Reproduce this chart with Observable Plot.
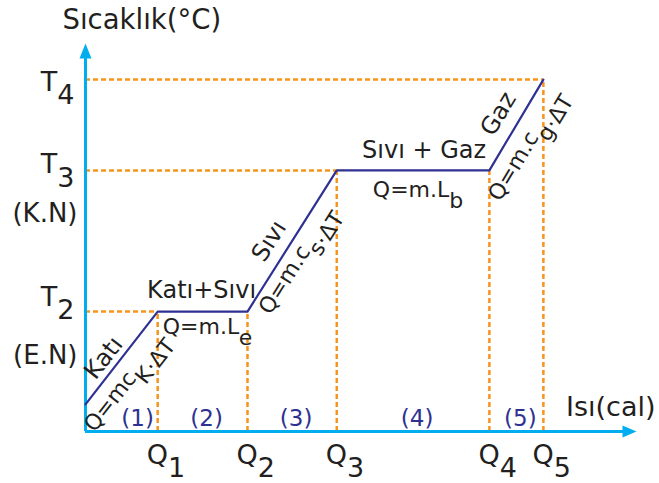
<!DOCTYPE html>
<html>
<head>
<meta charset="utf-8">
<script src="https://cdn.jsdelivr.net/npm/d3@7"></script>
<script src="https://cdn.jsdelivr.net/npm/@observablehq/plot@0.6"></script>
<style>
  html, body { margin: 0; padding: 0; background: #fff; }
  #chart svg { display: block; }
</style>
</head>
<body>
<div id="chart"></div>
<script>
// ---- data ----
const heat = [0, 13.1, 29.4, 45.6, 73.3, 83.1];      // Q0 .. Q5
const temp = [7.0, 30.9, 30.9, 67.3, 67.3, 90.7];    // temperature at each point
const qTickLabels = ["Q_1", "Q_2", "Q_3", "Q_4", "Q_5"];
const tTickLabels = ["T_2", "T_3", "T_4"];
const tTickIndex = [1, 3, 5];
const pointNotes = ["(E.N)", "(K.N)"];
const phaseNames = ["Katı", "Katı+Sıvı", "Sıvı", "Sıvı + Gaz", "Gaz"];
const phaseFormulas = ["Q=mc_K·ΔT", "Q=m.L_e", "Q=m.c_s·ΔT", "Q=m.L_b", "Q=m.c_g·ΔT"];
const stageLabels = ["(1)", "(2)", "(3)", "(4)", "(5)"];
const yTitle = "Sıcaklık(°C)";
const xTitle = "Isı(cal)";

// ---- styles / layout ----
const FONT = "DejaVu Sans";
const INK = "#231f20";
const AXIS = "#00aeef";
const CURVE = "#2e3192";
const DASH = "#f7941d";

const nameLayout = [
  {dx: -18, dy: 0, rotate: -52},
  {dx: -1, dy: -21, rotate: 0},
  {dx: -23, dy: 0, rotate: -57.7},
  {dx: 11, dy: -20, rotate: 0},
  {dx: -18, dy: -11, rotate: -59}
];
const formulaLayout = [
  {dx: 4, dy: 24, rotate: -52},
  {dx: 5, dy: 15, rotate: 0},
  {dx: 5, dy: 19, rotate: -57.7},
  {dx: 5, dy: 20, rotate: 0},
  {dx: 10, dy: 20, rotate: -59}
];
const tTickDy = [-6, 3, 11];

const upHead = {draw(ctx) { ctx.moveTo(0, 0); ctx.lineTo(6, 15); ctx.lineTo(-6, 15); ctx.closePath(); }};
const rightHead = {draw(ctx) { ctx.moveTo(0, 0); ctx.lineTo(-14, -6); ctx.lineTo(-14, 6); ctx.closePath(); }};

const segIdx = d3.range(5);
const midX = i => (heat[i] + heat[i + 1]) / 2;
const midY = i => (temp[i] + temp[i + 1]) / 2;

const marks = [];

// dashed guides
marks.push(Plot.ruleY(tTickIndex, {y: i => temp[i], x1: 0, x2: i => heat[i], stroke: DASH, strokeWidth: 2.5, strokeDasharray: "5,3"}));
marks.push(Plot.ruleX(d3.range(1, 6), {x: i => heat[i], y1: 0, y2: i => temp[i], stroke: DASH, strokeWidth: 2.5, strokeDasharray: "5,3"}));

// axes with arrows
marks.push(Plot.ruleX([0], {y1: 0, y2: 97, stroke: AXIS, strokeWidth: 3}));
marks.push(Plot.ruleY([0], {x1: 0, x2: 98, stroke: AXIS, strokeWidth: 3}));
marks.push(Plot.dot([0], {x: 0, y: 100, symbol: upHead, fill: AXIS, stroke: "none"}));
marks.push(Plot.dot([0], {x: 100, y: 0, symbol: rightHead, fill: AXIS, stroke: "none"}));

// heating curve
marks.push(Plot.line(heat.map((h, i) => ({h, t: temp[i]})), {x: "h", y: "t", stroke: CURVE, strokeWidth: 2.2}));

// axis titles
marks.push(Plot.text([yTitle], {x: 0, y: 100, text: d => d, textAnchor: "start", lineAnchor: "bottom", dx: -23, dy: -15, fontSize: 27.5, fontFamily: FONT, fill: INK}));
marks.push(Plot.text([xTitle], {x: 100, y: 0, text: d => d, textAnchor: "end", lineAnchor: "bottom", dx: 19, dy: -16, fontSize: 27, fontFamily: FONT, fill: INK}));

// tick labels
marks.push(Plot.text(qTickLabels, {x: (d, i) => heat[i + 1], y: 0, text: d => d, textAnchor: "start", lineAnchor: "bottom", dx: -11, dy: 32, fontSize: 27, fontFamily: FONT, fill: INK}));
tTickLabels.forEach((lab, k) => {
  marks.push(Plot.text([lab], {x: 0, y: temp[tTickIndex[k]], text: d => d, textAnchor: "end", lineAnchor: "bottom", dx: -11, dy: tTickDy[k], fontSize: 27, fontFamily: FONT, fill: INK}));
});
marks.push(Plot.text(pointNotes, {x: 0, y: (d, i) => temp[tTickIndex[i]], text: d => d, textAnchor: "end", lineAnchor: "bottom", dx: -8, dy: 52, fontSize: 26, fontFamily: FONT, fill: INK}));

// stage numbers
stageLabels.forEach((lab, i) => {
  marks.push(Plot.text([lab], {x: midX(i), y: 0, text: d => d, lineAnchor: "bottom", dx: i === 0 ? 16 : 4, dy: -6, fontSize: 23, fontFamily: FONT, fill: CURVE}));
});

// phase names and formulas
segIdx.forEach(i => {
  const n = nameLayout[i], f = formulaLayout[i];
  marks.push(Plot.text([phaseNames[i]], {x: midX(i), y: midY(i), text: d => d, lineAnchor: "middle", dx: n.dx, dy: n.dy, rotate: n.rotate, fontSize: 24, fontFamily: FONT, fill: INK}));
  marks.push(Plot.text([phaseFormulas[i]], {x: midX(i), y: midY(i), text: d => d, lineAnchor: "middle", dx: f.dx, dy: f.dy, rotate: f.rotate, fontSize: 22, fontFamily: FONT, fill: INK}));
});

const svg = Plot.plot({
  width: 659,
  height: 483,
  margin: 0,
  style: {background: "#fff", fontFamily: FONT},
  x: {domain: [0, 100], range: [85, 636], axis: null},
  y: {domain: [0, 100], range: [431, 43], axis: null},
  marks
});

// turn "_" into a lowered subscript continuation
svg.querySelectorAll("text").forEach(t => {
  const s = t.textContent;
  if (s.includes("_") && t.children.length === 0) {
    const [a, b] = s.split("_");
    t.textContent = a;
    const ts = document.createElementNS("http://www.w3.org/2000/svg", "tspan");
    ts.setAttribute("dy", "0.5em");
    ts.textContent = b;
    t.appendChild(ts);
  }
});

document.getElementById("chart").appendChild(svg);
</script>
</body>
</html>
